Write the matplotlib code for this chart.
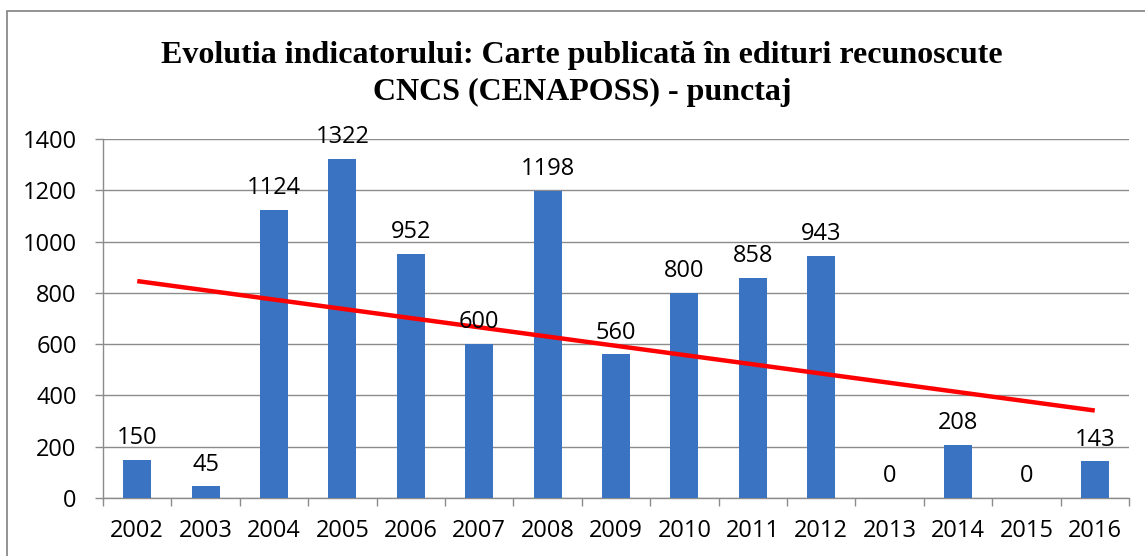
import numpy as np
import matplotlib.pyplot as plt
from matplotlib.patches import Rectangle

# ------------------ Data ------------------
years = ["2002", "2003", "2004", "2005", "2006", "2007", "2008", "2009",
         "2010", "2011", "2012", "2013", "2014", "2015", "2016"]
scores = [150, 45, 1124, 1322, 952, 600, 1198, 560, 800, 858, 943, 0, 208, 0, 143]
y_ticks = [0, 200, 400, 600, 800, 1000, 1200, 1400]

title_lines = ["Evolutia indicatorului: Carte publicată în edituri recunoscute",
               "CNCS (CENAPOSS) - punctaj"]

# ------------------ Style ------------------
bar_color = "#3A73C2"
grid_color = "#8C8C8C"
label_font = "Open Sans"
fs = 17

fig = plt.figure(figsize=(11.45, 5.56), dpi=100)
ax = fig.add_axes([0.0900, 0.1043, 0.8960, 0.6457])

x = np.arange(len(years))
ax.bar(x, scores, width=0.41, color=bar_color, zorder=3)

# linear trend line
k, b = np.polyfit(x, scores, 1)
ax.plot(x[[0, -1]], k * x[[0, -1]] + b, color="#FF0000", lw=3.2, zorder=4,
        solid_capstyle="butt")

# value labels
for xi, v in zip(x, scores):
    ax.annotate(str(v), (xi, v), xytext=(0, 7), textcoords="offset points",
                ha="center", va="bottom", fontsize=fs, family=label_font,
                zorder=5)

ax.set_xlim(-0.5, len(years) - 0.5)
ax.set_ylim(0, 1400)
ax.set_yticks(y_ticks)
ax.set_yticklabels([str(t) for t in y_ticks], family=label_font, fontsize=fs)
ax.yaxis.grid(True, color=grid_color, lw=1, zorder=0)
ax.tick_params(axis="y", length=6, width=1, color=grid_color, pad=13)

# x ticks at category boundaries, labels at centres
ax.set_xticks(np.arange(len(years) + 1) - 0.5)
ax.set_xticklabels([])
ax.set_xticks(x, minor=True)
ax.set_xticklabels(years, minor=True, family=label_font, fontsize=fs)
ax.tick_params(axis="x", which="major", length=6, width=1, color=grid_color)
ax.tick_params(axis="x", which="minor", length=0, pad=15)

for s in ["top", "right"]:
    ax.spines[s].set_visible(False)
for s in ["left", "bottom"]:
    ax.spines[s].set_color(grid_color)
    ax.spines[s].set_linewidth(1)

# title, two lines placed on their baselines
for line, yb in zip(title_lines, [63, 100]):
    fig.text(582 / 1145, 1 - yb / 556, line, ha="center", va="baseline",
             fontsize=23, fontweight="bold", family="Liberation Serif")

# chart border
fig.patches.append(Rectangle((7 / 1145, -0.1), 1.2, 1 - 11 / 556 + 0.1,
                             transform=fig.transFigure, fill=False,
                             edgecolor="#808080", lw=1.2))

fig.savefig("out.png", dpi=100)
